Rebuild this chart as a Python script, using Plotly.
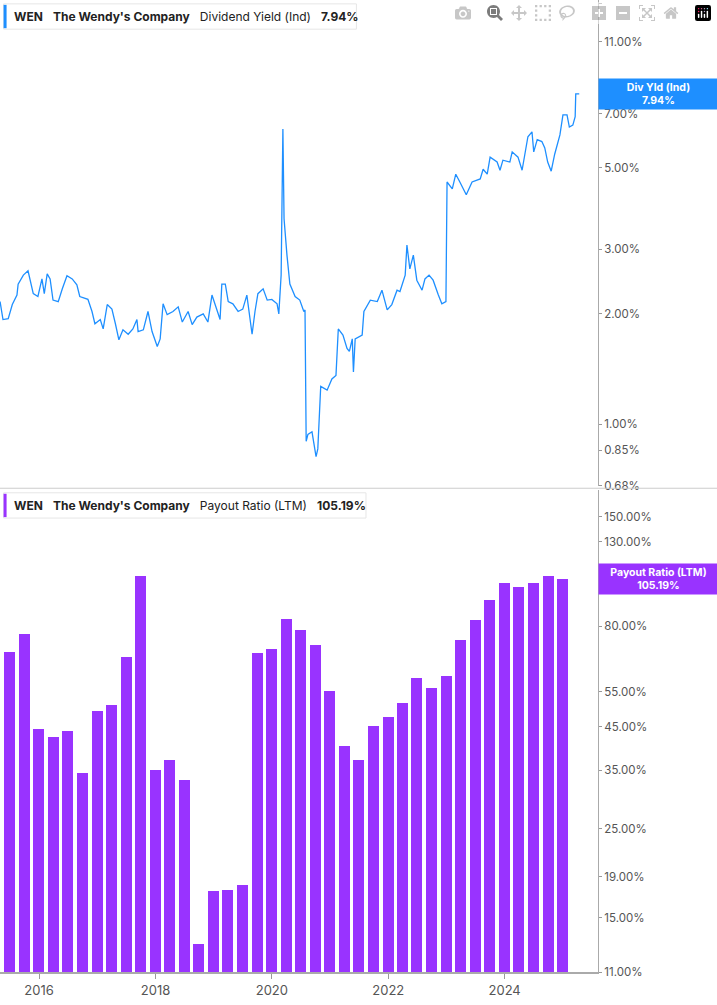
import plotly.graph_objects as go
from plotly.subplots import make_subplots
import pandas as pd
import numpy as np

# Dividend yield (decimal year, %)
dy_years = [2015.33,2015.38,2015.47,2015.54,2015.62,2015.64,2015.73,2015.81,2015.90,2015.98,
 2016.05,2016.09,2016.14,2016.19,2016.24,2016.33,2016.40,2016.48,2016.57,2016.65,2016.70,2016.84,2016.91,2016.96,
 2017.05,2017.10,2017.17,2017.25,2017.31,2017.37,2017.44,2017.53,2017.61,2017.68,2017.70,2017.79,2017.87,2017.94,
 2018.03,2018.08,2018.13,2018.20,2018.30,2018.39,2018.46,2018.56,2018.63,2018.71,2018.82,2018.90,2018.97,
 2019.02,2019.11,2019.14,2019.20,2019.25,2019.33,2019.42,2019.50,2019.57,2019.66,2019.71,2019.76,2019.85,2019.92,
 2020.00,2020.09,2020.12,2020.16,2020.19,2020.21,2020.26,2020.31,2020.40,2020.48,2020.55,2020.57,2020.59,2020.62,
 2020.69,2020.76,2020.79,2020.84,2020.95,2021.03,2021.10,2021.14,2021.22,2021.29,2021.33,2021.38,2021.40,2021.43,
 2021.55,2021.58,2021.69,2021.81,2021.89,2021.98,2022.06,2022.15,2022.20,2022.29,2022.32,2022.37,2022.43,2022.49,
 2022.58,2022.63,2022.70,2022.77,2022.86,2022.92,2022.99,2023.01,2023.10,2023.16,2023.23,2023.34,2023.44,2023.58,
 2023.63,2023.70,2023.75,2023.87,2023.92,2023.97,2024.09,2024.13,2024.23,2024.30,2024.40,2024.47,2024.50,2024.56,
 2024.64,2024.69,2024.74,2024.80,2024.86,2024.95,2025.00,2025.07,2025.11,2025.17,2025.21,2025.22,2025.28]
dy_values = [2.16,1.93,1.94,2.12,2.25,2.41,2.55,2.62,2.27,2.23,
 2.49,2.27,2.57,2.49,2.18,2.16,2.34,2.54,2.49,2.40,2.23,2.19,2.03,1.88,
 1.93,1.82,2.12,2.06,1.88,1.70,1.81,1.76,1.82,1.93,1.79,1.81,2.03,1.79,
 1.63,1.71,2.13,1.99,2.03,2.09,1.90,2.03,1.87,1.96,2.00,1.90,2.25,
 2.12,1.93,2.41,2.41,2.16,2.13,2.03,2.06,2.25,1.76,2.03,2.27,2.34,2.18,
 2.19,2.13,2.00,2.55,6.37,3.63,2.89,2.41,2.23,2.18,2.03,2.05,0.90,0.94,
 0.955,0.817,0.858,1.27,1.24,1.33,1.36,1.82,1.75,1.61,1.58,1.71,1.39,1.71,
 1.75,2.03,2.18,2.16,2.32,2.05,2.12,2.32,2.30,2.55,3.08,2.65,2.89,2.47,
 2.32,2.49,2.55,2.47,2.25,2.13,2.16,4.57,4.38,4.80,4.57,4.22,4.57,4.66,
 4.95,4.80,5.34,5.18,4.92,5.24,5.18,5.52,5.34,4.92,6.07,6.26,5.52,5.96,
 5.89,5.66,5.18,4.89,5.44,6.14,6.96,6.96,6.45,6.53,6.88,7.94,7.94]

# Payout ratio (LTM), quarterly
pr_dates = pd.date_range("2015-06-30", "2024-12-31", freq="QE")
pr_values = [69.1,76.6,44.4,42.5,43.9,34.5,49.3,50.9,67.2,106.6,35.0,37.2,33.2,
 12.9,17.5,17.6,18.1,68.8,70.3,83.4,78.4,72.0,55.2,40.3,37.2,45.2,47.6,51.5,
 59.4,56.1,60.1,74.0,82.9,93.0,102.4,100.1,102.4,106.6,105.19]

top_ticks = [0.68,0.85,1,2,3,5,7,8,11,14]
bot_ticks = [11,15,19,25,35,45,55,80,100,130,150]

def to_dt(y):
    yr = int(np.floor(y))
    start = pd.Timestamp(f"{yr}-01-01")
    return start + pd.Timedelta(days=(y - yr) * 365.25)

dy_dates = [to_dt(y) for y in dy_years]

BLUE = "#1E8FFF"
PURPLE = "#9933FF"
GRAY = "#555555"

fig = make_subplots(rows=2, cols=1, shared_xaxes=True, vertical_spacing=0.004,
                    row_heights=[0.502, 0.498])
fig.add_trace(go.Scatter(x=dy_dates, y=dy_values, mode="lines",
                         line=dict(color=BLUE, width=1.3), showlegend=False), row=1, col=1)
fig.add_trace(go.Bar(x=pr_dates, y=pr_values, marker=dict(color=PURPLE, line_width=0),
                     width=69 * 86400000, showlegend=False), row=2, col=1)

xr = [pd.Timestamp("2015-05-01"), pd.Timestamp("2025-08-09")]
for r in (1, 2):
    fig.update_xaxes(range=xr, showgrid=False, zeroline=False, row=r, col=1)
fig.update_xaxes(showticklabels=False, row=1, col=1)
fig.update_xaxes(tickvals=[pd.Timestamp(f"{y}-01-01") for y in range(2016, 2025, 2)],
                 ticktext=[str(y) for y in range(2016, 2025, 2)],
                 ticks="outside", ticklen=5, tickcolor="#999",
                 showline=True, linecolor="#aaa", linewidth=2,
                 tickfont=dict(family="Inter", size=13, color=GRAY), row=2, col=1)

fig.update_yaxes(type="log", side="right", range=[np.log10(0.68), np.log10(14.3)],
                 tickvals=top_ticks, ticktext=[f"{v:.2f}%" for v in top_ticks],
                 showgrid=False, zeroline=False, showline=True, linecolor="#aaa",
                 ticks="outside", ticklen=3, tickcolor="#999",
                 tickfont=dict(family="Inter", size=11.5, color=GRAY), row=1, col=1)
fig.update_yaxes(type="log", side="right", range=[np.log10(11), 2.243],
                 tickvals=bot_ticks, ticktext=[f"{v:.2f}%" for v in bot_ticks],
                 showgrid=False, zeroline=False, showline=True, linecolor="#aaa",
                 ticks="outside", ticklen=3, tickcolor="#999",
                 tickfont=dict(family="Inter", size=11.5, color=GRAY), row=2, col=1)

shapes = [
    dict(type="line", xref="paper", yref="paper", x0=0, x1=1.2, y0=0.4977, y1=0.4977,
         line=dict(color="#cccccc", width=1)),
    dict(type="rect", xref="paper", yref="paper", x0=0.006, x1=0.596, y0=0.970, y1=0.996,
         line=dict(color="#e6e6e6", width=1), fillcolor="white"),
    dict(type="rect", xref="paper", yref="paper", x0=0.006, x1=0.011, y0=0.971, y1=0.995,
         line_width=0, fillcolor=BLUE),
    dict(type="rect", xref="paper", yref="paper", x0=0.006, x1=0.612, y0=0.467, y1=0.493,
         line=dict(color="#e6e6e6", width=1), fillcolor="white"),
    dict(type="rect", xref="paper", yref="paper", x0=0.006, x1=0.011, y0=0.468, y1=0.492,
         line_width=0, fillcolor=PURPLE),
]
annots = [
    dict(xref="paper", yref="paper", x=0.02, y=0.983, xanchor="left", yanchor="middle",
         text="<b>WEN</b>   <b>The Wendy's Company</b>   Dividend Yield (Ind)   <b>7.94%</b>",
         showarrow=False, font=dict(family="Inter", size=12, color="#222")),
    dict(xref="paper", yref="paper", x=0.02, y=0.480, xanchor="left", yanchor="middle",
         text="<b>WEN</b>   <b>The Wendy's Company</b>   Payout Ratio (LTM)   <b>105.19%</b>",
         showarrow=False, font=dict(family="Inter", size=12, color="#222")),
    dict(xref="paper", yref="y", x=1.0, y=np.log10(7.94), xanchor="left", yanchor="middle",
         text="<b>Div Yld (Ind)</b><br><b>7.94%</b>", showarrow=False, bgcolor=BLUE,
         width=115, height=26, borderpad=2, font=dict(family="Inter", size=10.5, color="white")),
    dict(xref="paper", yref="y2", x=1.0, y=np.log10(105.19), xanchor="left", yanchor="middle",
         text="<b>Payout Ratio (LTM)</b><br><b>105.19%</b>", showarrow=False, bgcolor=PURPLE,
         width=115, height=26, borderpad=2, font=dict(family="Inter", size=10.5, color="white")),
]
fig.update_layout(width=717, height=1005, margin=dict(l=0, r=119, t=0, b=33),
                  plot_bgcolor="white", paper_bgcolor="white", bargap=0,
                  shapes=shapes, annotations=annots, font=dict(family="Inter"))
fig.write_html("out.html", post_script="document.body.style.margin='0';document.body.style.overflow='hidden';")
